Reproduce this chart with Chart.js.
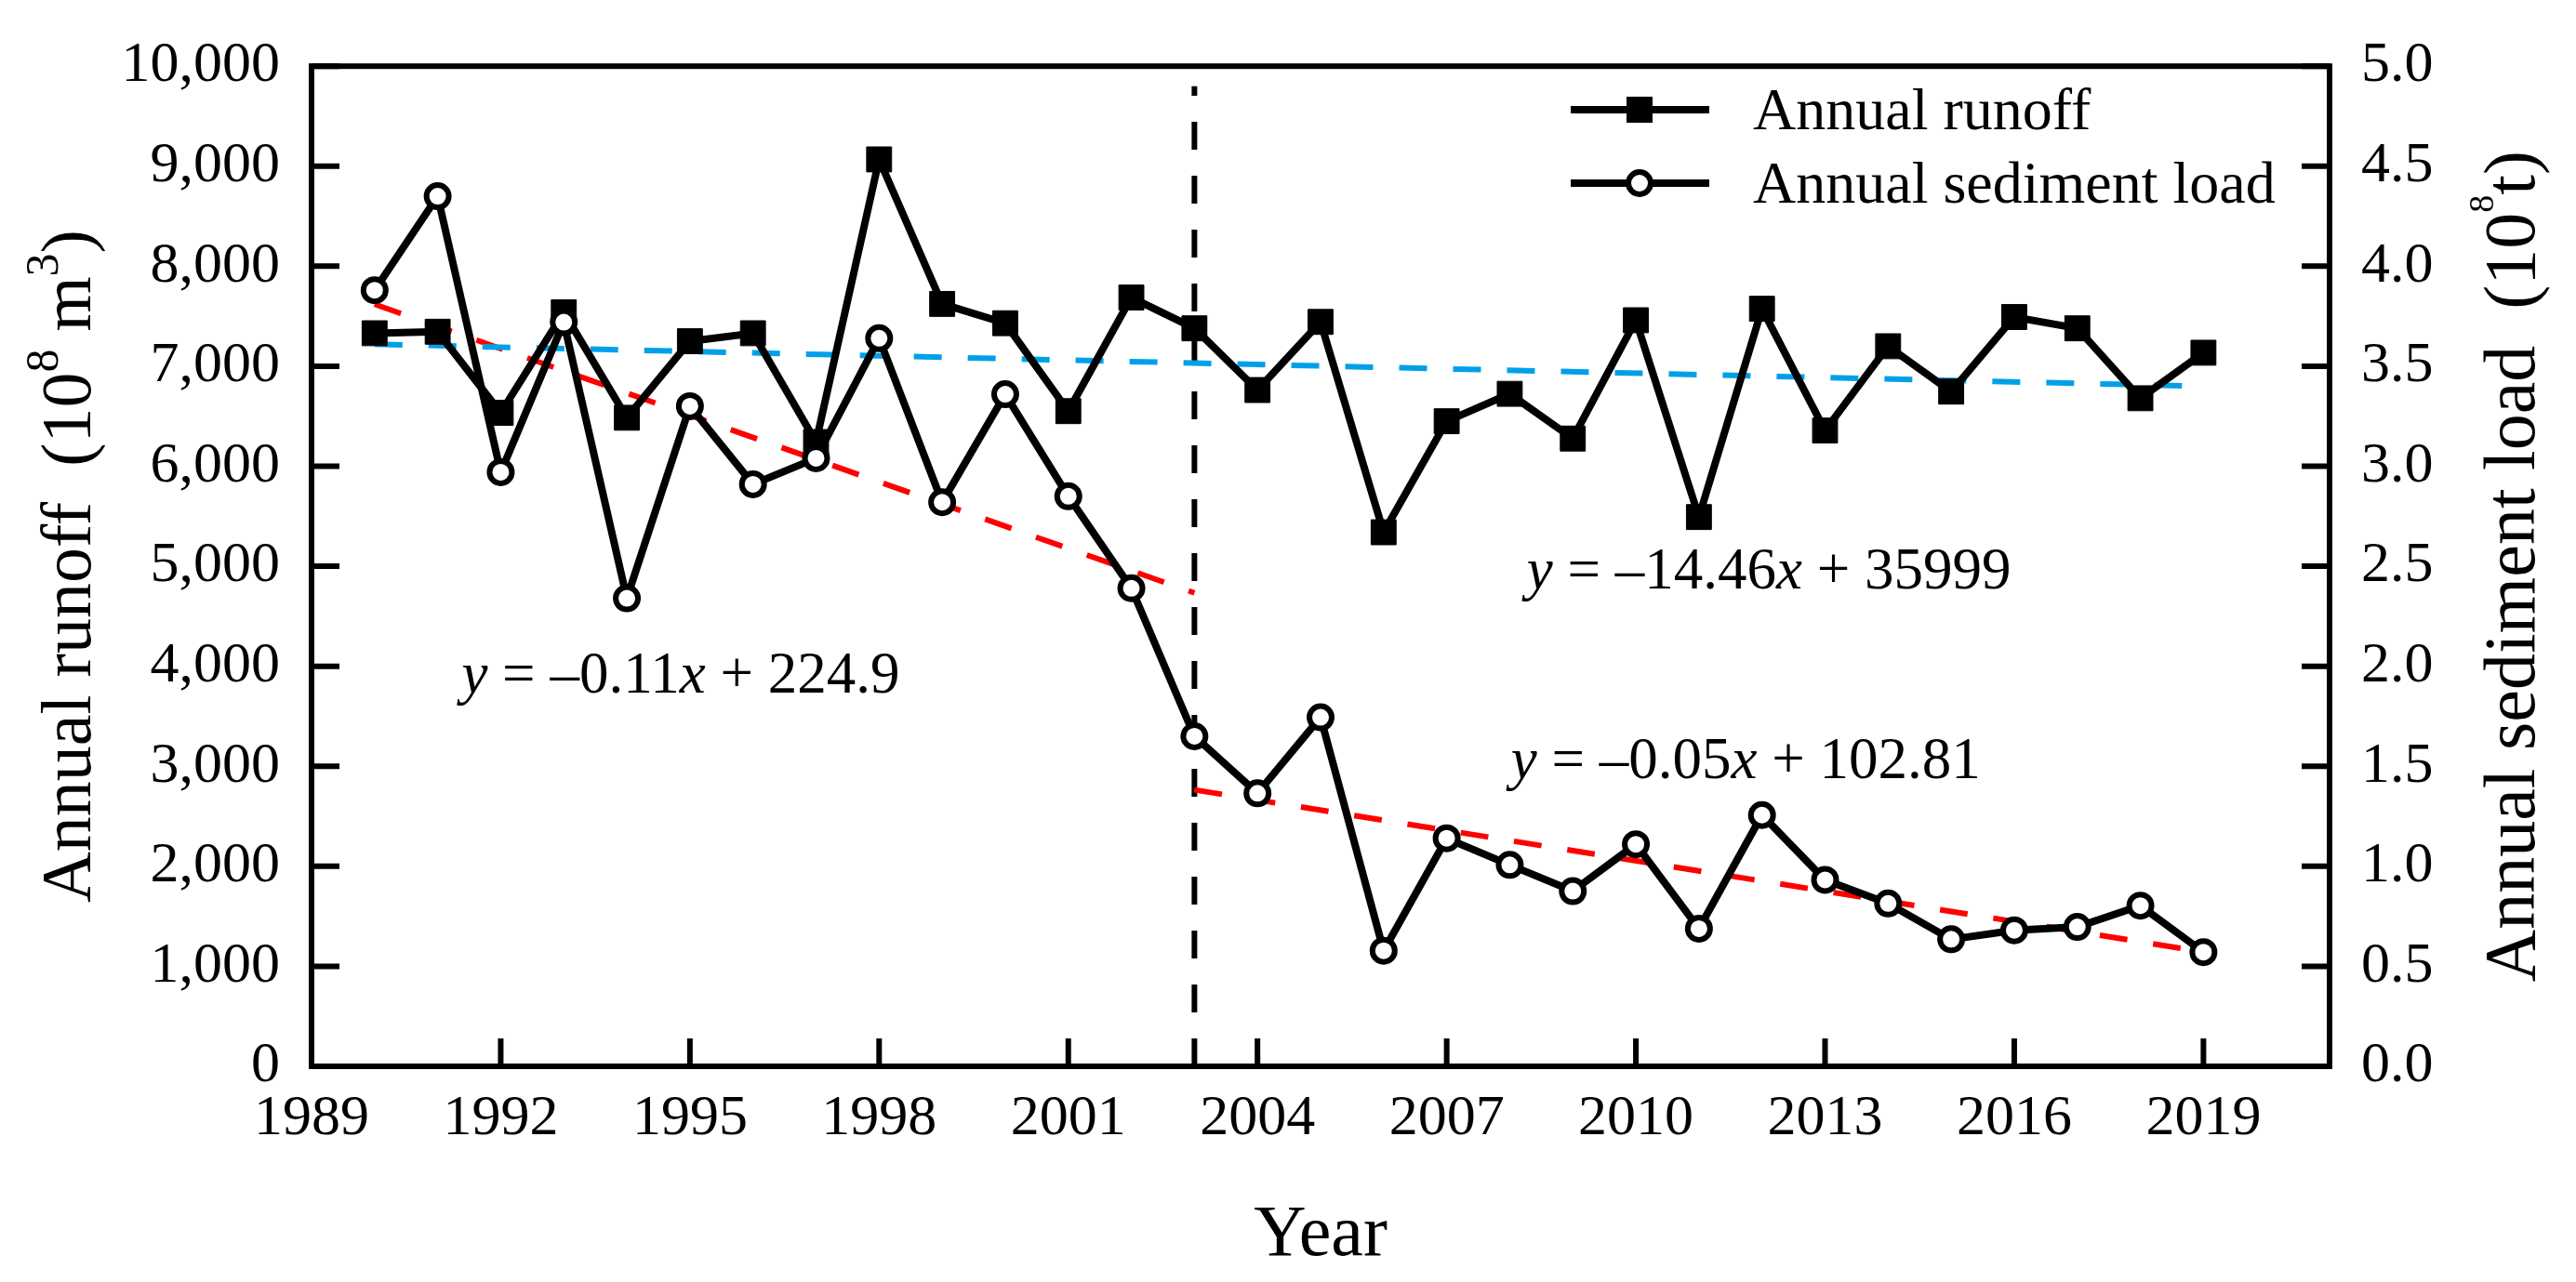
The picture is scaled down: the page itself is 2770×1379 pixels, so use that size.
<!DOCTYPE html>
<html>
<head>
<meta charset="utf-8">
<title>Annual runoff and sediment load</title>
<script src="https://cdn.jsdelivr.net/npm/chart.js@4.4.1/dist/chart.umd.min.js"></script>
<style>
  html, body { margin: 0; padding: 0; background: #fff; }
  #wrap { width: 2770px; height: 1379px; }
</style>
</head>
<body>
<div id="wrap"><canvas id="chart-runoff" width="2770" height="1379"></canvas></div>
<script>
// values
const years = [1990, 1991, 1992, 1993, 1994, 1995, 1996, 1997, 1998, 1999,
  2000, 2001, 2002, 2003, 2004, 2005, 2006, 2007, 2008, 2009,
  2010, 2011, 2012, 2013, 2014, 2015, 2016, 2017, 2018, 2019];

// annual runoff (10^8 m3)
const runoff = [7330, 7345, 6534, 7540, 6485, 7250, 7330, 6242, 9068, 7623,
  7430, 6551, 7687, 7379, 6762, 7443, 5340, 6450, 6724, 6277,
  7460, 5492, 7575, 6357, 7200, 6746, 7492, 7379, 6680, 7135];

// annual sediment load (10^8 t)
const sediment = [3.88, 4.35, 2.97, 3.72, 2.34, 3.30, 2.91, 3.04, 3.64, 2.82,
  3.36, 2.85, 2.39, 1.65, 1.365, 1.745, 0.578, 1.14, 1.007, 0.876,
  1.11, 0.688, 1.256, 0.932, 0.814, 0.635, 0.68, 0.697, 0.803, 0.571];

// axis ticks
const yearTicks = [1989, 1992, 1995, 1998, 2001, 2004, 2007, 2010, 2013, 2016, 2019];
const runoffTicks = [0, 1000, 2000, 3000, 4000, 5000, 6000, 7000, 8000, 9000, 10000];
const sedimentTicks = [0, 0.5, 1, 1.5, 2, 2.5, 3, 3.5, 4, 4.5, 5];

// trend lines, [year, value] end points
const runoffTrend = [[1990, 7220], [2019, 6800]];
const sedimentTrendBefore = [[1990, 3.81], [2003, 2.367]];
const sedimentTrendAfter = [[2003, 1.382], [2019, 0.572]];
// break year marker (left axis units)
const breakLine = [[2003, 0], [2003, 9800]];

const FONT = "'Liberation Serif', 'Times New Roman', serif";
Chart.defaults.font.family = FONT;
Chart.defaults.color = "#000";

const toPoints = (xs, ys) => xs.map((x, i) => ({ x: x, y: ys[i] }));
const pairPoints = (pairs) => pairs.map((p) => ({ x: p[0], y: p[1] }));
const fixTicks = (list) => (scale) => {
  scale.ticks = list.map((v) => ({ value: v }));
};

// draws a row of text pieces (some italic / superscript) starting at x
function drawParts(ctx, parts, x, y, size, supSize, supRise) {
  let cx = x;
  parts.forEach((p) => {
    const s = p.sup ? supSize : size;
    ctx.font = `${p.italic ? "italic " : ""}${s}px ${FONT}`;
    ctx.fillText(p.t, cx, p.sup ? y - supRise : y);
    cx += ctx.measureText(p.t).width;
  });
}

function partsWidth(ctx, parts, size, supSize) {
  let w = 0;
  parts.forEach((p) => {
    const s = p.sup ? supSize : size;
    ctx.font = `${p.italic ? "italic " : ""}${s}px ${FONT}`;
    w += ctx.measureText(p.t).width;
  });
  return w;
}

// frame and inward ticks
const framePlugin = {
  id: "frame",
  afterDraw(chart) {
    const { ctx, chartArea } = chart;
    const sx = chart.scales.x, sy = chart.scales.y, sy2 = chart.scales.y2;
    const len = 30;
    ctx.save();
    ctx.strokeStyle = "#000";
    ctx.lineWidth = 6;
    ctx.beginPath();
    yearTicks.forEach((v) => {
      const px = sx.getPixelForValue(v);
      ctx.moveTo(px, chartArea.bottom);
      ctx.lineTo(px, chartArea.bottom - len);
    });
    runoffTicks.forEach((v) => {
      const py = sy.getPixelForValue(v);
      ctx.moveTo(chartArea.left, py);
      ctx.lineTo(chartArea.left + len, py);
    });
    sedimentTicks.forEach((v) => {
      const py = sy2.getPixelForValue(v);
      ctx.moveTo(chartArea.right, py);
      ctx.lineTo(chartArea.right - len, py);
    });
    ctx.stroke();
    ctx.strokeRect(chartArea.left, chartArea.top,
      chartArea.right - chartArea.left, chartArea.bottom - chartArea.top);
    ctx.restore();
  },
};

// legend: line with marker in the middle
const legendPlugin = {
  id: "lineLegend",
  afterDraw(chart) {
    const ctx = chart.ctx;
    const rows = [
      { label: "Annual runoff", marker: "rect", y: 118 },
      { label: "Annual sediment load", marker: "circle", y: 197 },
    ];
    ctx.save();
    rows.forEach((r) => {
      ctx.strokeStyle = "#000";
      ctx.lineWidth = 8;
      ctx.beginPath();
      ctx.moveTo(1689, r.y);
      ctx.lineTo(1838, r.y);
      ctx.stroke();
      if (r.marker === "rect") {
        ctx.fillStyle = "#000";
        ctx.fillRect(1763 - 14, r.y - 14, 28, 28);
      } else {
        ctx.beginPath();
        ctx.arc(1763, r.y, 12, 0, Math.PI * 2);
        ctx.fillStyle = "#fff";
        ctx.fill();
        ctx.lineWidth = 6;
        ctx.stroke();
      }
      ctx.fillStyle = "#000";
      ctx.textAlign = "left";
      ctx.textBaseline = "alphabetic";
      ctx.font = `64px ${FONT}`;
      ctx.fillText(r.label, 1885, r.y + 21);
    });
    ctx.restore();
  },
};

// regression equations and axis titles
const textPlugin = {
  id: "texts",
  afterDraw(chart) {
    const { ctx, chartArea } = chart;
    const sx = chart.scales.x, sy = chart.scales.y;
    ctx.save();
    ctx.fillStyle = "#000";
    ctx.textAlign = "left";
    ctx.textBaseline = "alphabetic";

    const equations = [
      { x: 1991.38, y: 3738, parts: [{ t: "y", italic: true }, { t: " = \u20130.11" }, { t: "x", italic: true }, { t: " + 224.9" }] },
      { x: 2008.27, y: 4775, parts: [{ t: "y", italic: true }, { t: " = \u201314.46" }, { t: "x", italic: true }, { t: " + 35999" }] },
      { x: 2008.02, y: 2883, parts: [{ t: "y", italic: true }, { t: " = \u20130.05" }, { t: "x", italic: true }, { t: " + 102.81" }] },
    ];
    equations.forEach((e) => {
      drawParts(ctx, e.parts, sx.getPixelForValue(e.x), sy.getPixelForValue(e.y), 63, 63, 0);
    });

    // x title
    ctx.textAlign = "center";
    ctx.font = `78px ${FONT}`;
    ctx.fillText("Year", (chartArea.left + chartArea.right) / 2, 1350);
    ctx.textAlign = "left";

    const midY = (chartArea.top + chartArea.bottom) / 2;
    const titles = [
      { bx: 97, size: 76, sup: 50, rise: 35,
        parts: [{ t: "Annual runoff  (10" }, { t: "8", sup: true }, { t: " m" }, { t: "3", sup: true }, { t: ")" }] },
      { bx: 2725, size: 78, sup: 38, rise: 44,
        parts: [{ t: "Annual sediment load  (10" }, { t: "8", sup: true }, { t: "t)" }] },
    ];
    titles.forEach((t) => {
      const w = partsWidth(ctx, t.parts, t.size, t.sup);
      ctx.save();
      ctx.translate(t.bx, midY);
      ctx.rotate(-Math.PI / 2);
      drawParts(ctx, t.parts, -w / 2, 0, t.size, t.sup, t.rise);
      ctx.restore();
    });
    ctx.restore();
  },
};

const tickFont = { size: 62 };
const ctx = document.getElementById("chart-runoff").getContext("2d");

new Chart(ctx, {
  type: "scatter",
  data: {
    datasets: [
      {
        label: "Annual sediment load",
        data: toPoints(years, sediment),
        yAxisID: "y2",
        showLine: true,
        borderColor: "#000",
        borderWidth: 8,
        tension: 0,
        pointStyle: "circle",
        pointRadius: 12,
        pointBorderWidth: 6,
        pointBackgroundColor: "#fff",
        pointBorderColor: "#000",
      },
      {
        label: "Annual runoff",
        data: toPoints(years, runoff),
        yAxisID: "y",
        showLine: true,
        borderColor: "#000",
        borderWidth: 8,
        tension: 0,
        pointStyle: "rect",
        pointRadius: 19,
        pointBorderWidth: 1,
        pointBackgroundColor: "#000",
        pointBorderColor: "#000",
      },
      {
        label: "Runoff trend",
        data: pairPoints(runoffTrend),
        yAxisID: "y",
        showLine: true,
        borderColor: "#00a0e9",
        borderWidth: 6,
        borderDash: [30, 28],
        pointRadius: 0,
      },
      {
        label: "Sediment trend 1990-2003",
        data: pairPoints(sedimentTrendBefore),
        yAxisID: "y2",
        showLine: true,
        borderColor: "#ff0000",
        borderWidth: 6,
        borderDash: [30, 28],
        pointRadius: 0,
      },
      {
        label: "Sediment trend 2003-2019",
        data: pairPoints(sedimentTrendAfter),
        yAxisID: "y2",
        showLine: true,
        borderColor: "#ff0000",
        borderWidth: 6,
        borderDash: [30, 28],
        pointRadius: 0,
      },
      {
        label: "2003",
        data: pairPoints(breakLine),
        yAxisID: "y",
        showLine: true,
        borderColor: "#000",
        borderWidth: 6,
        borderDash: [30, 28],
        pointRadius: 0,
      },
    ],
  },
  options: {
    responsive: false,
    animation: false,
    layout: { padding: { top: 48, left: 0, right: 0, bottom: 0 } },
    plugins: {
      legend: { display: false },
      tooltip: { enabled: false },
    },
    scales: {
      x: {
        type: "linear",
        position: "bottom",
        min: 1989,
        max: 2021,
        afterBuildTicks: fixTicks(yearTicks),
        afterFit: (s) => { s.height = 232; },
        grid: { display: false, drawTicks: false },
        border: { display: false },
        ticks: {
          font: tickFont,
          color: "#000",
          padding: 20,
          maxRotation: 0,
          autoSkip: false,
          callback: (v) => String(v),
        },
      },
      y: {
        type: "linear",
        position: "left",
        min: 0,
        max: 10000,
        afterBuildTicks: fixTicks(runoffTicks),
        afterFit: (s) => { s.width = 335; },
        grid: { display: false, drawTicks: false },
        border: { display: false },
        ticks: {
          font: tickFont,
          color: "#000",
          padding: 34,
          callback: (v) => Number(v).toLocaleString("en-US"),
        },
      },
      y2: {
        type: "linear",
        position: "right",
        min: 0,
        max: 5,
        afterBuildTicks: fixTicks(sedimentTicks),
        afterFit: (s) => { s.width = 265; },
        grid: { display: false, drawTicks: false },
        border: { display: false },
        ticks: {
          font: tickFont,
          color: "#000",
          padding: 34,
          callback: (v) => Number(v).toFixed(1),
        },
      },
    },
  },
  plugins: [framePlugin, legendPlugin, textPlugin],
});
</script>
</body>
</html>
